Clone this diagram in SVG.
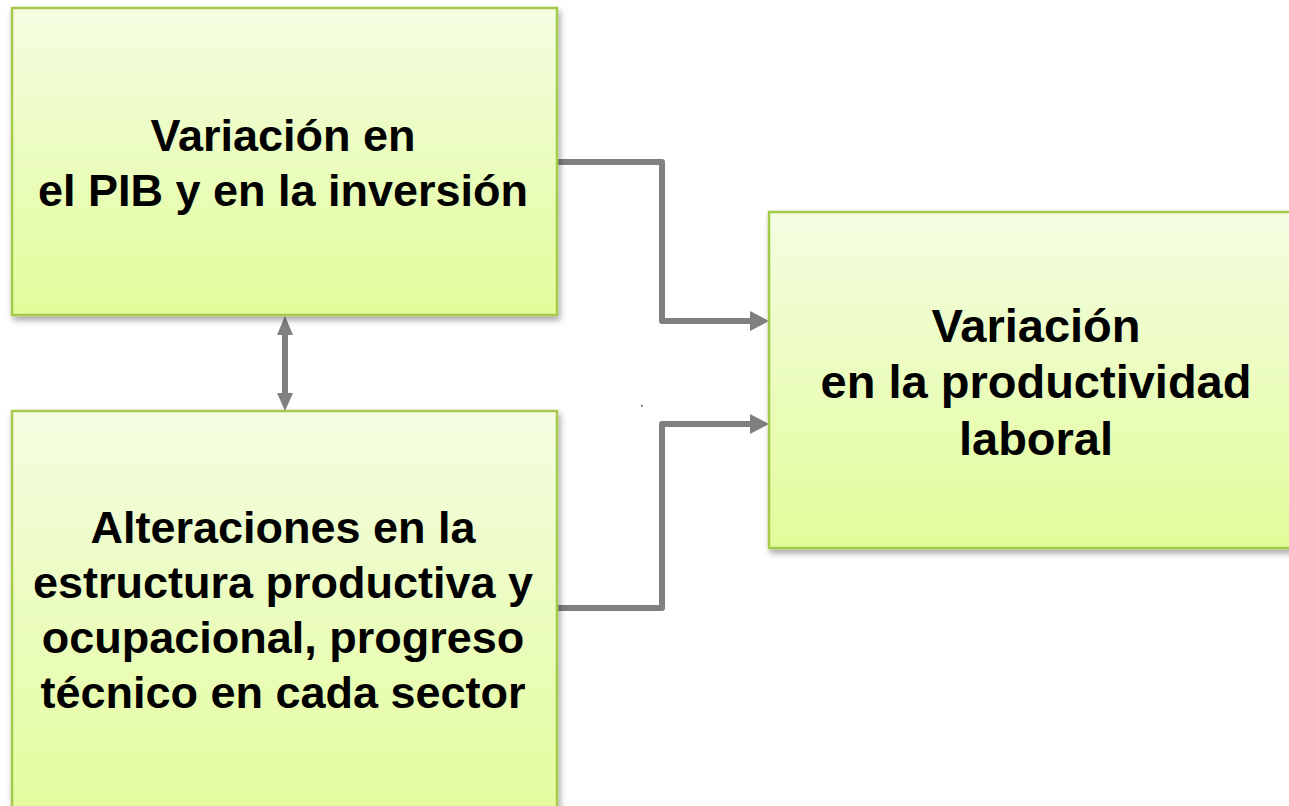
<svg xmlns="http://www.w3.org/2000/svg" width="1289" height="806" viewBox="0 0 1289 806">
<defs>
<linearGradient id="g" x1="0" y1="0" x2="0" y2="1">
<stop offset="0" stop-color="#F4FDE2"/>
<stop offset="1" stop-color="#E2FC9A"/>
</linearGradient>
<filter id="sh" x="-5%" y="-5%" width="115%" height="115%">
<feDropShadow dx="2" dy="4" stdDeviation="3" flood-color="#000" flood-opacity="0.35"/>
</filter>
</defs>
<style>
.box{fill:url(#g);stroke:#A5C94B;stroke-width:2.5;filter:url(#sh)}
.t{font-family:"Liberation Sans",Arial,sans-serif;font-weight:bold;fill:#000;text-anchor:middle}
.c{fill:none;stroke:#808080;stroke-width:6;stroke-linejoin:round}
.h{fill:#808080}
</style>
<g id="connectors">
<path class="c" d="M557,162 H662 V321 H752"/>
<polygon class="h" points="750,311 769,321 750,331"/>
<path class="c" d="M557,608 H662 V424 H752"/>
<polygon class="h" points="750,414 769,424 750,434"/>
<path class="c" d="M285,332 V396" stroke-width="5"/>
<polygon class="h" points="277,335 285,316 293,335"/>
<polygon class="h" points="277,393 285,411 293,393"/>
</g>
<g id="node-pib">
<rect class="box" x="12" y="8" width="545" height="307"/>
<text class="t" font-size="45" x="283" y="151">Variación en</text>
<text class="t" font-size="45" x="283" y="206">el PIB y en la inversión</text>
</g>
<g id="node-alteraciones">
<rect class="box" x="12" y="411" width="545" height="420"/>
<text class="t" font-size="45" x="283" y="543">Alteraciones en la</text>
<text class="t" font-size="45" x="283" y="598">estructura productiva y</text>
<text class="t" font-size="45" x="283" y="653">ocupacional, progreso</text>
<text class="t" font-size="45" x="283" y="708">técnico en cada sector</text>
</g>
<g id="node-productividad">
<rect class="box" x="769" y="212" width="533" height="336"/>
<text class="t" font-size="47" x="1036" y="342">Variación</text>
<text class="t" font-size="47" x="1036" y="398">en la productividad</text>
<text class="t" font-size="47" x="1036" y="455">laboral</text>
</g>
<rect x="641" y="405" width="1.5" height="1.5" fill="#333"/>
</svg>
